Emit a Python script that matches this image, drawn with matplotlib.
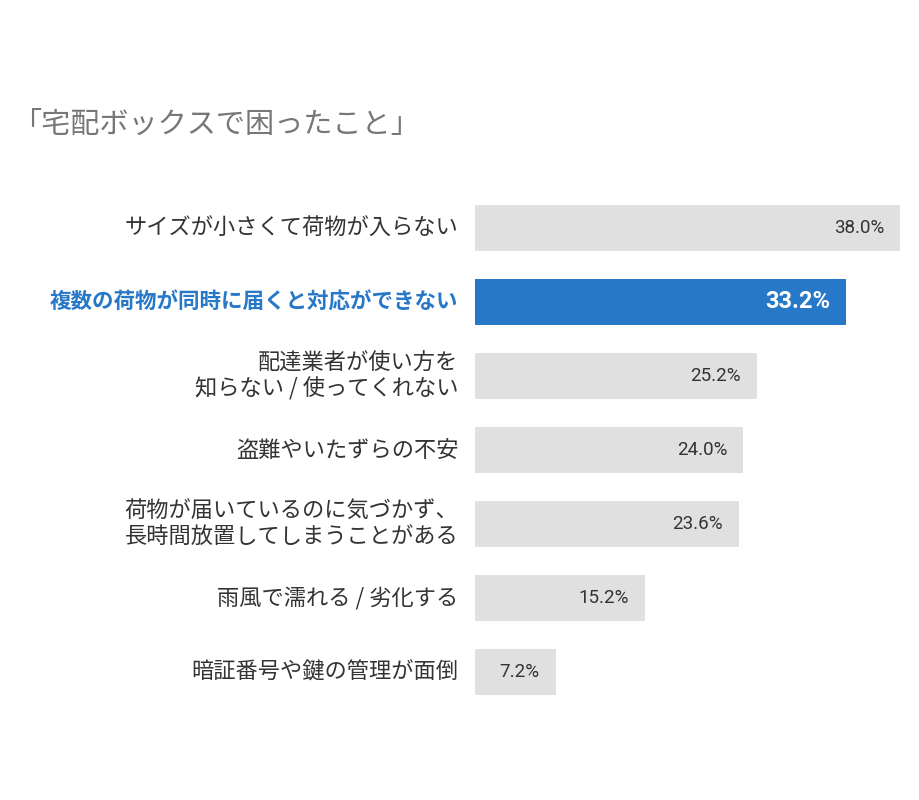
import matplotlib
matplotlib.use("Agg")
import matplotlib.pyplot as plt

plt.rcParams['font.family'] = ['Noto Sans CJK JP', 'DejaVu Sans']

categories = ["サイズが小さくて荷物が入らない",
              "複数の荷物が同時に届くと対応ができない",
              "配達業者が使い方を\n知らない / 使ってくれない",
              "盗難やいたずらの不安",
              "荷物が届いているのに気づかず、\n長時間放置してしまうことがある",
              "雨風で濡れる / 劣化する",
              "暗証番号や鍵の管理が面倒"]
values = [38.0, 33.2, 25.2, 24.0, 23.6, 15.2, 7.2]
highlight = 1

gray, blue, dark = "#e0e0e0", "#2878c8", "#333333"

fig = plt.figure(figsize=(9.2, 8), dpi=100)
ax = fig.add_axes([475/920, (800-709)/800, 425/920, 518/800])
ys = range(len(values))
colors = [blue if i == highlight else gray for i in ys]
ax.barh(list(ys), values, height=0.63, color=colors)
ax.set_xlim(0, 38)
ax.set_ylim(6.5, -0.5)
ax.axis('off')

for i, (c, v) in enumerate(zip(categories, values)):
    hl = i == highlight
    ax.annotate(c, (0, i), xytext=(-12, 0), textcoords='offset points',
                ha='right', va='center', fontsize=16 if not hl else 15.5,
                fontweight='bold' if hl else 'normal',
                color=blue if hl else dark, linespacing=1.15)
    ax.annotate(f"{v:.1f}%", (v, i), xytext=(-11.5, 0), textcoords='offset points',
                ha='right', va='center', family=['Roboto', 'DejaVu Sans'],
                fontsize=17 if hl else 13.5,
                fontweight='bold' if hl else 'normal',
                color='white' if hl else dark)

fig.text(12/920, 1-125/800, "「宅配ボックスで困ったこと」", fontsize=21,
         color="#777777", ha='left', va='center')

fig.savefig("out.png", dpi=100, facecolor='white')
